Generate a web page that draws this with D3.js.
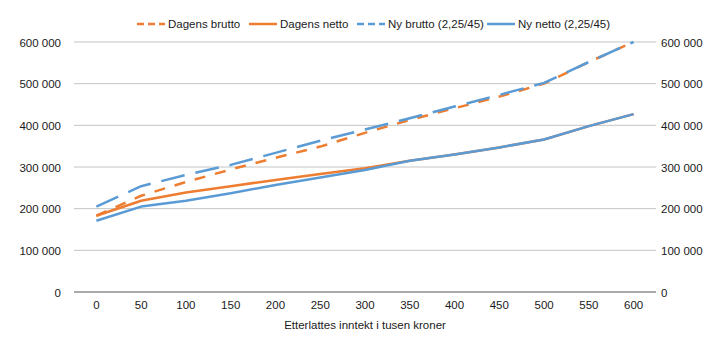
<!DOCTYPE html>
<html><head><meta charset="utf-8">
<script src="https://cdn.jsdelivr.net/npm/d3@7"></script>
<style>
body{margin:0;background:#fff;}
svg text{font-family:"Liberation Sans",Arial,sans-serif;fill:#1a1a1a;}
</style></head><body>
<svg id="c" width="720" height="341"></svg>
<script>
const categories = [0,50,100,150,200,250,300,350,400,450,500,550,600];
const dagensBrutto = [183000,231000,264000,294000,322000,349000,382000,413000,441000,469000,500000,552000,600000];
const dagensNetto  = [183000,219000,239000,254000,269000,283000,297000,315000,330000,347000,366000,398000,427000];
const nyBrutto     = [205000,254000,281000,305000,334000,363000,390000,417000,445000,473000,502000,552000,600000];
const nyNetto      = [171000,205000,219000,237000,257000,275000,293000,315000,330000,347000,366000,398000,427000];
const yTicks = [0,100000,200000,300000,400000,500000,600000];
const seriesNames = ["Dagens brutto","Dagens netto","Ny brutto (2,25/45)","Ny netto (2,25/45)"];
const xTitle = "Etterlattes inntekt i tusen kroner";

const series = [
  {name:seriesNames[0], values:dagensBrutto, color:"#ED7D31", dash:"11,10"},
  {name:seriesNames[1], values:dagensNetto,  color:"#ED7D31", dash:null},
  {name:seriesNames[2], values:nyBrutto,     color:"#5B9BD5", dash:"24,11"},
  {name:seriesNames[3], values:nyNetto,      color:"#5B9BD5", dash:null}
];

const svg = d3.select("#c");
const L = 74, R = 656, T = 42, B = 292;
const FS = 11.5;
const x = d3.scaleBand().domain(categories).range([L,R]);
const y = d3.scaleLinear().domain([0,600000]).range([B,T]);
const fmt = v => d3.format(",")(v).replace(/,/g," ");

svg.append("g").selectAll("line").data(yTicks.filter(d=>d>0)).join("line")
  .attr("x1",L).attr("x2",R).attr("y1",d=>y(d)).attr("y2",d=>y(d))
  .attr("stroke","#c4c4c4").attr("stroke-width",1);
svg.append("line").attr("x1",L).attr("x2",R).attr("y1",y(0)).attr("y2",y(0))
  .attr("stroke","#8c8c8c").attr("stroke-width",1.3);

const yl = svg.append("g").attr("transform",`translate(${L-13},0)`)
  .call(d3.axisLeft(y).tickValues(yTicks).tickFormat(fmt).tickSize(0));
yl.select(".domain").remove();
yl.selectAll("text").attr("font-size",FS).attr("dy","0.35em").attr("x",0).attr("textLength",null);
const yr = svg.append("g").attr("transform",`translate(${R+5},0)`)
  .call(d3.axisRight(y).tickValues(yTicks).tickFormat(fmt).tickSize(0));
yr.select(".domain").remove();
yr.selectAll("text").attr("font-size",FS).attr("dy","0.35em").attr("x",0);
const xa = svg.append("g").attr("transform",`translate(0,${B})`)
  .call(d3.axisBottom(x).tickSize(0));
xa.select(".domain").remove();
xa.selectAll("text").attr("font-size",FS).attr("y",9).attr("dy","0.71em");

svg.append("text").attr("x",(L+R)/2).attr("y",329).attr("text-anchor","middle")
  .attr("font-size",FS).text(xTitle);

const line = d3.line().x((d,i)=>x(categories[i])+x.bandwidth()/2).y(d=>y(d));
svg.append("g").selectAll("path").data(series).join("path")
  .attr("d",d=>line(d.values)).attr("fill","none")
  .attr("stroke",d=>d.color).attr("stroke-width",2.5)
  .attr("stroke-dasharray",d=>d.dash).attr("stroke-linejoin","round");

const legX = [137,249,357,487];
const lg = svg.append("g").selectAll("g").data(series).join("g")
  .attr("transform",(d,i)=>`translate(${legX[i]},24)`);
lg.append("line").attr("x1",0).attr("x2",28).attr("y1",0).attr("y2",0)
  .attr("stroke",d=>d.color).attr("stroke-width",2.5)
  .attr("stroke-dasharray",d=>d.dash ? "7,4" : null);
lg.append("text").attr("x",31).attr("dy","0.35em").attr("font-size",FS).text(d=>d.name);
</script></body></html>
